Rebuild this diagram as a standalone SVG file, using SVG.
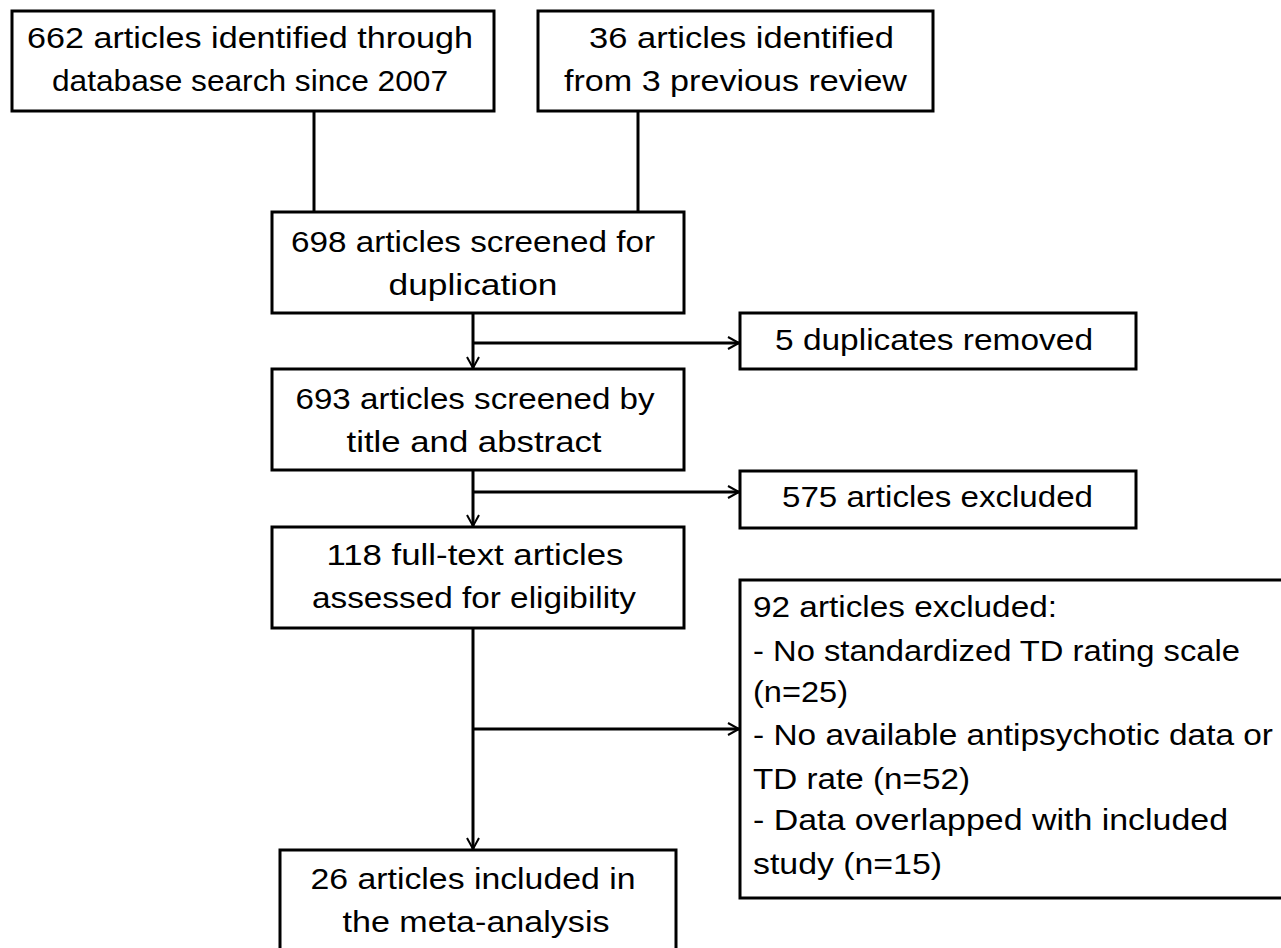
<svg xmlns="http://www.w3.org/2000/svg" width="1281" height="948" viewBox="0 0 1281 948">
<defs>
<style>
.box{fill:#fff;stroke:#000;stroke-width:3}
.t{font-family:"Liberation Sans",Arial,sans-serif;font-size:29px;fill:#000}
.c{text-anchor:middle}
.ln{fill:none;stroke:#000;stroke-width:3}
</style>
<marker id="ah" markerUnits="userSpaceOnUse" markerWidth="16" markerHeight="16" refX="12" refY="7" orient="auto">
<path d="M1,1 L12,7 L1,13" fill="none" stroke="#000" stroke-width="2"/>
</marker>
</defs>
<rect width="1281" height="948" fill="#fff"/>
<g id="connectors">
<path class="ln" d="M314,111 V212"/>
<path class="ln" d="M638,111 V212"/>
<path class="ln" d="M473,313 V368" marker-end="url(#ah)"/>
<path class="ln" d="M473,343 H739" marker-end="url(#ah)"/>
<path class="ln" d="M473,470 V526" marker-end="url(#ah)"/>
<path class="ln" d="M473,492 H739" marker-end="url(#ah)"/>
<path class="ln" d="M473,628 V849" marker-end="url(#ah)"/>
<path class="ln" d="M473,729 H739" marker-end="url(#ah)"/>
</g>
<g id="n1">
<rect class="box" x="12" y="11" width="482" height="100"/>
<text class="t c" x="250" y="48" textLength="446" lengthAdjust="spacingAndGlyphs">662 articles identified through</text>
<text class="t c" x="250" y="91" textLength="396" lengthAdjust="spacingAndGlyphs">database search since 2007</text>
</g>
<g id="n2">
<rect class="box" x="538" y="11" width="395" height="100"/>
<text class="t c" x="741.5" y="48" textLength="305" lengthAdjust="spacingAndGlyphs">36 articles identified</text>
<text class="t c" x="735.5" y="91" textLength="343" lengthAdjust="spacingAndGlyphs">from 3 previous review</text>
</g>
<g id="n3">
<rect class="box" x="272" y="212" width="412" height="101"/>
<text class="t c" x="473" y="252" textLength="364" lengthAdjust="spacingAndGlyphs">698 articles screened for</text>
<text class="t c" x="473" y="295" textLength="169" lengthAdjust="spacingAndGlyphs">duplication</text>
</g>
<g id="n5">
<rect class="box" x="740" y="313" width="396" height="56"/>
<text class="t c" x="934" y="350" textLength="318" lengthAdjust="spacingAndGlyphs">5 duplicates removed</text>
</g>
<g id="n4">
<rect class="box" x="272" y="369" width="412" height="101"/>
<text class="t c" x="475" y="409" textLength="359" lengthAdjust="spacingAndGlyphs">693 articles screened by</text>
<text class="t c" x="474" y="452" textLength="255" lengthAdjust="spacingAndGlyphs">title and abstract</text>
</g>
<g id="n6">
<rect class="box" x="740" y="471" width="396" height="57"/>
<text class="t c" x="937.5" y="507" textLength="311" lengthAdjust="spacingAndGlyphs">575 articles excluded</text>
</g>
<g id="n7">
<rect class="box" x="272" y="527" width="412" height="101"/>
<text class="t c" x="475" y="565" textLength="297" lengthAdjust="spacingAndGlyphs">118 full-text articles</text>
<text class="t c" x="474" y="608" textLength="324" lengthAdjust="spacingAndGlyphs">assessed for eligibility</text>
</g>
<g id="n8">
<rect class="box" x="740" y="580" width="560" height="318"/>
<text class="t" x="753" y="617" textLength="304" lengthAdjust="spacingAndGlyphs">92 articles excluded:</text>
<text class="t" x="753" y="661" textLength="487" lengthAdjust="spacingAndGlyphs">- No standardized TD rating scale</text>
<text class="t" x="753" y="702" textLength="95" lengthAdjust="spacingAndGlyphs">(n=25)</text>
<text class="t" x="753" y="745" textLength="520" lengthAdjust="spacingAndGlyphs">- No available antipsychotic data or</text>
<text class="t" x="753" y="789" textLength="217" lengthAdjust="spacingAndGlyphs">TD rate (n=52)</text>
<text class="t" x="753" y="830" textLength="475" lengthAdjust="spacingAndGlyphs">- Data overlapped with included</text>
<text class="t" x="753" y="874" textLength="189" lengthAdjust="spacingAndGlyphs">study (n=15)</text>
</g>
<g id="n9">
<rect class="box" x="280" y="850" width="396" height="130"/>
<text class="t c" x="473" y="889" textLength="325" lengthAdjust="spacingAndGlyphs">26 articles included in</text>
<text class="t c" x="476" y="932" textLength="267" lengthAdjust="spacingAndGlyphs">the meta-analysis</text>
</g>
</svg>
